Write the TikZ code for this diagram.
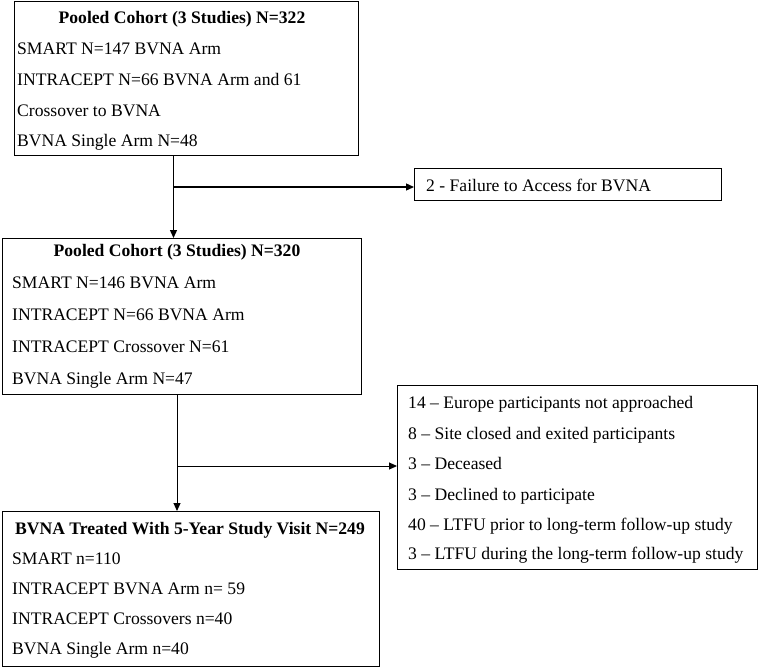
\documentclass[tikz,border=0pt]{standalone}
\usepackage{fontspec}
\setmainfont{Liberation Serif}
\usetikzlibrary{arrows.meta}
\begin{document}
\begin{tikzpicture}[x=1pt,y=-1pt,
  box/.style={draw=black,line width=1.3pt,rectangle,inner sep=0pt,anchor=north west},
  txt/.style={inner sep=0pt,anchor=base west,font=\fontsize{17.6}{20}\selectfont},
  ttl/.style={inner sep=0pt,anchor=base,font=\fontsize{17.6}{20}\selectfont\bfseries},
  arr/.style={line width=1.3pt,-{Triangle[length=8pt,width=7pt]}},
  ln/.style={line width=1.3pt}]
\useasboundingbox (0,0) rectangle (762,667);
% boxes
\node[box,minimum width=344pt,minimum height=154pt] (b1) at (14,0.7) {};
\node[box,minimum width=307pt,minimum height=32pt] (fail) at (414,168) {};
\node[box,minimum width=359pt,minimum height=156pt] (b2) at (2,238) {};
\node[box,minimum width=360pt,minimum height=184pt] (excl) at (397,385) {};
\node[box,minimum width=377pt,minimum height=155pt] (b3) at (2,511) {};
% box 1 text
\node[ttl] (t1) at (182,23) {Pooled Cohort (3 Studies) N=322};
\node[txt] (t1a) at (17,54) {SMART N=147 BVNA Arm};
\node[txt] (t1b) at (17,85) {INTRACEPT N=66 BVNA Arm and 61};
\node[txt] (t1c) at (17,116) {Crossover to BVNA};
\node[txt] (t1d) at (17,146) {BVNA Single Arm N=48};
% fail text
\node[txt] (tf) at (426,191) {2 - Failure to Access for BVNA};
% box 2 text
\node[ttl] (t2) at (177,256) {Pooled Cohort (3 Studies) N=320};
\node[txt] (t2a) at (12,288) {SMART N=146 BVNA Arm};
\node[txt] (t2b) at (12,320) {INTRACEPT N=66 BVNA Arm};
\node[txt] (t2c) at (12,352) {INTRACEPT Crossover N=61};
\node[txt] (t2d) at (12,384) {BVNA Single Arm N=47};
% excl text
\node[txt] (e1) at (408,408) {14 – Europe participants not approached};
\node[txt] (e2) at (408,439) {8 – Site closed and exited participants};
\node[txt] (e3) at (408,469) {3 – Deceased};
\node[txt] (e4) at (408,500) {3 – Declined to participate};
\node[txt] (e5) at (408,530) {40 – LTFU prior to long-term follow-up study};
\node[txt] (e6) at (408,559) {3 – LTFU during the long-term follow-up study};
% box 3 text
\node[ttl] (t3) at (190,534) {BVNA Treated With 5-Year Study Visit N=249};
\node[txt] (t3a) at (12,564) {SMART n=110};
\node[txt] (t3b) at (12,594) {INTRACEPT BVNA Arm n= 59};
\node[txt] (t3c) at (12,624) {INTRACEPT Crossovers n=40};
\node[txt] (t3d) at (12,654) {BVNA Single Arm n=40};
% connectors
\coordinate (j1) at (173.5,187);
\coordinate (j2) at (177,466);
\draw[arr] (b1.south -| j1) -- (b2.north -| j1);
\draw[arr] (j1) -- (j1 -| fail.west);
\draw[arr,line width=1pt] (b2.south -| j2) -- (b3.north -| j2);
\draw[arr,line width=1pt] (j2) -- (j2 -| excl.west);
\end{tikzpicture}
\end{document}
